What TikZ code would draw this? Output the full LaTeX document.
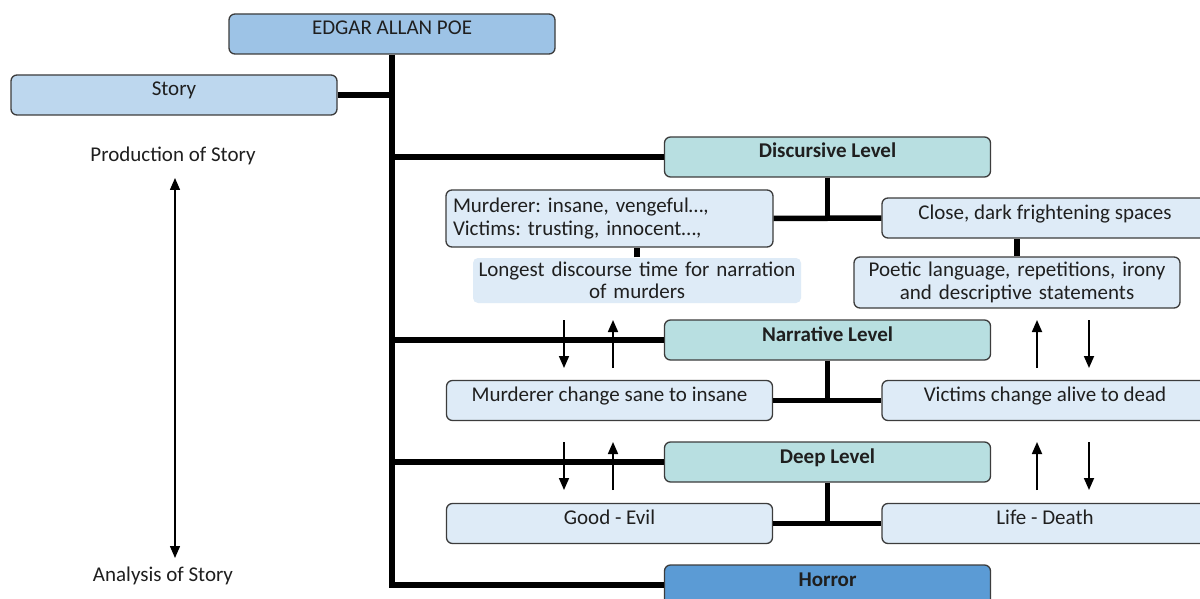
\documentclass[tikz,border=0pt]{standalone}
\usepackage{fontspec}
\setmainfont{Carlito}
\usetikzlibrary{arrows.meta}

\definecolor{poeblue}{HTML}{9DC3E6}
\definecolor{storyblue}{HTML}{BDD7EE}
\definecolor{levelteal}{HTML}{B8DFE1}
\definecolor{paleblue}{HTML}{DEEBF7}
\definecolor{horrorblue}{HTML}{5B9BD5}
\definecolor{edgegray}{HTML}{3C3C3C}

\frenchspacing

\tikzset{
  box/.style={draw=edgegray, line width=1.3pt, rounded corners=6pt, inner sep=0pt,
    minimum width=326pt, text height=21pt, text depth=19pt,
    font=\fontsize{21}{24}\selectfont, text=black!88},
  levelbox/.style={box, fill=levelteal, font=\fontsize{21}{24}\selectfont\bfseries},
  itembox/.style={box, fill=paleblue},
  twoline/.style={draw=edgegray, line width=1.3pt, rounded corners=6pt, fill=paleblue,
    inner xsep=0pt, inner ysep=0pt, font=\fontsize{21}{22.5}\selectfont, text=black!88},
  branch/.style={line width=5.5pt},
  flow/.style={line width=1.7pt, -{Triangle[width=10pt,length=12pt]}},
  plain/.style={font=\fontsize{21}{24}\selectfont, text=black!88},
}

\begin{document}
\begin{tikzpicture}[x=1pt, y=-1pt]
    \useasboundingbox (0,0) rectangle (1200,599);
    \fill[white] (0,0) rectangle (1200,599);
    \clip (0,0) rectangle (1200,599);

    % Top of the tree
    \node[box, fill=poeblue] (poe) at (392,34) {EDGAR ALLAN POE};
    \node[box, fill=storyblue] (story) at (174,95) {Story};

    % Production / analysis axis
    \node[plain] (prod) at (173,156) {Production of Story};
    \node[plain] (anal) at (163,576) {Analysis of Story};
    \coordinate (ptop) at (175,178);
    \coordinate (pbot) at (175,558);

    % Discursive level
    \node[levelbox] (disc) at (827.5,157) {Discursive Level};
    \node[twoline, text width=313pt, align=left, inner xsep=7pt, minimum height=57pt]
        (murd) at (609.5,218.5) {Murderer: insane, vengeful…,\\Victims: trusting, innocent…,};
    \node[itembox] (close) at (1045,218) {Close, dark frightening spaces};
    \node[twoline, draw=none, rounded corners=5pt, text width=328pt, align=center, minimum height=45pt]
        (longest) at (637,280.5) {Longest discourse time for narration\\of murders};
    \node[twoline, text width=326pt, align=center, minimum height=51pt]
        (poetic) at (1017,282.5) {Poetic language, repetitions, irony\\and descriptive statements};

    % Narrative level
    \node[levelbox] (narr) at (827.5,340) {Narrative Level};
    \node[itembox] (mchange) at (609.5,400.5) {Murderer change sane to insane};
    \node[itembox] (victims) at (1045,400.5) {Victims change alive to dead};

    % Deep level
    \node[levelbox] (deep) at (827.5,462) {Deep Level};
    \node[itembox] (good) at (609.5,523.5) {Good - Evil};
    \node[itembox] (life) at (1045,523.5) {Life - Death};

    \node[box, fill=horrorblue, font=\fontsize{21}{24}\selectfont\bfseries] (horror) at (827.5,585) {Horror};

    % Trunk and branches
    \draw[branch] (poe.south) -- (poe.south |- horror.west) -- (horror.west);
    \draw[branch] (story.east) -- (story.east -| poe.south);
    \draw[branch] (poe.south |- disc.west) -- (disc.west);
    \draw[branch] (poe.south |- narr.west) -- (narr.west);
    \draw[branch] (poe.south |- deep.west) -- (deep.west);

    % Level connectors
    \draw[branch] (murd.east) -- (close.west);
    \draw[branch] (disc.south) -- (disc.south |- murd.east);
    \draw[branch] (longest.north) -- (longest.north |- murd.south);
    \draw[branch] (poetic.north) -- (poetic.north |- close.south);
    \draw[branch] (mchange.east) -- (victims.west);
    \draw[branch] (narr.south) -- (narr.south |- mchange.east);
    \draw[branch] (good.east) -- (life.west);
    \draw[branch] (deep.south) -- (deep.south |- good.east);

    % Up and down arrows between levels
    \coordinate (d1a) at (564,320);  \coordinate (d1b) at (564,368);
    \coordinate (u1a) at (613,368);  \coordinate (u1b) at (613,320);
    \coordinate (u2a) at (1037,368); \coordinate (u2b) at (1037,320);
    \coordinate (d2a) at (1089,320); \coordinate (d2b) at (1089,368);
    \coordinate (d3a) at (564,442);  \coordinate (d3b) at (564,490);
    \coordinate (u3a) at (613,490);  \coordinate (u3b) at (613,442);
    \coordinate (u4a) at (1037,490); \coordinate (u4b) at (1037,442);
    \coordinate (d4a) at (1089,442); \coordinate (d4b) at (1089,490);

    \draw[flow] (d1a) -- (d1b);
    \draw[flow] (u1a) -- (u1b);
    \draw[flow] (u2a) -- (u2b);
    \draw[flow] (d2a) -- (d2b);
    \draw[flow] (d3a) -- (d3b);
    \draw[flow] (u3a) -- (u3b);
    \draw[flow] (u4a) -- (u4b);
    \draw[flow] (d4a) -- (d4b);

    \draw[line width=1.4pt, {Triangle[width=10pt,length=12pt]}-{Triangle[width=10pt,length=12pt]}] (ptop) -- (pbot);
\end{tikzpicture}
\end{document}
